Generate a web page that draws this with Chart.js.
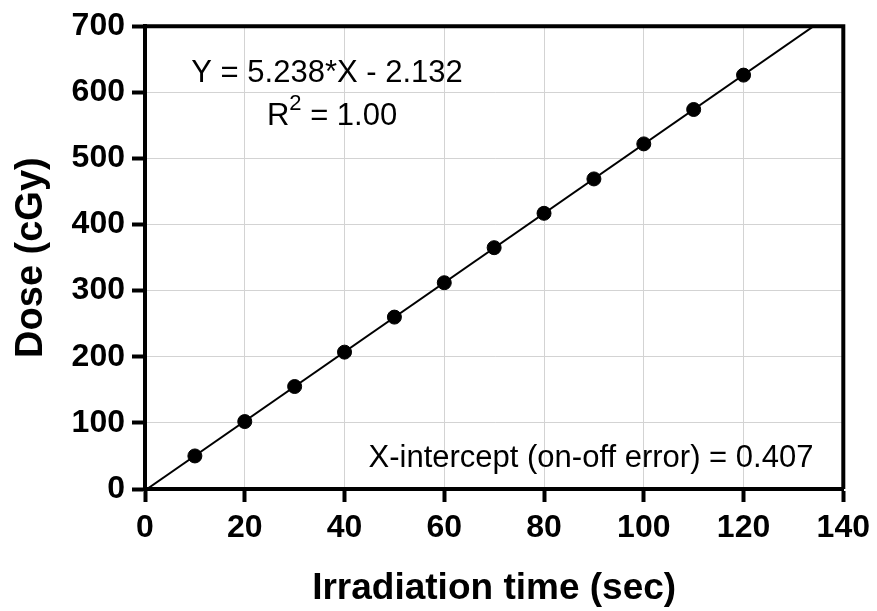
<!DOCTYPE html>
<html>
<head>
<meta charset="utf-8">
<script src="https://cdn.jsdelivr.net/npm/chart.js@4/dist/chart.umd.min.js"></script>
<style>
  html, body { margin: 0; padding: 0; background: #fff; }
  canvas { display: block; }
</style>
</head>
<body>
<canvas id="chart" width="877" height="611"></canvas>
<script>
// Irradiation time vs measured dose, with linear fit.
const times = [10, 20, 30, 40, 50, 60, 70, 80, 90, 100, 110, 120];
const doses = [50, 102, 155, 207, 260, 312, 365, 417, 469, 522, 574, 626];

// Fit reported on the figure.
const slope = 5.238;
const intercept = -2.132;
const xIntercept = 0.407;
const rSquared = '1.00';

const X_MAX = 140, Y_MAX = 700;

const FONT = '"Liberation Sans", Arial, Helvetica, sans-serif';

// Fit line from the x-intercept up to where it leaves the top of the plot.
const fitLine = [
  { x: xIntercept, y: slope * xIntercept + intercept },
  { x: (Y_MAX - intercept) / slope, y: Y_MAX },
];

const framePlugin = {
  id: 'frame',
  afterDraw(chart) {
    const { ctx, chartArea: a, scales: { x, y } } = chart;
    ctx.save();
    // top and right edges of the box
    ctx.strokeStyle = '#000';
    ctx.lineWidth = 4;
    ctx.beginPath();
    ctx.moveTo(a.left, a.top);
    ctx.lineTo(a.right, a.top);
    ctx.lineTo(a.right, a.bottom);
    ctx.stroke();

    // annotations
    ctx.fillStyle = '#000';
    ctx.textBaseline = 'middle';
    ctx.font = `31px ${FONT}`;
    ctx.textAlign = 'center';
    ctx.fillText(`Y = ${slope}*X - ${Math.abs(intercept)}`, x.getPixelForValue(36.5), y.getPixelForValue(628));

    // R² with superscript
    const ry = y.getPixelForValue(563);
    const partR = 'R', partRest = ` = ${rSquared}`;
    ctx.font = `31px ${FONT}`;
    const wR = ctx.measureText(partR).width;
    const wRest = ctx.measureText(partRest).width;
    ctx.font = `22px ${FONT}`;
    const wSup = ctx.measureText('2').width;
    const total = wR + wSup + wRest;
    let rx = x.getPixelForValue(37.5) - total / 2;
    ctx.textAlign = 'left';
    ctx.font = `31px ${FONT}`;
    ctx.fillText(partR, rx, ry);
    rx += wR;
    ctx.font = `22px ${FONT}`;
    ctx.fillText('2', rx, ry - 13);
    rx += wSup;
    ctx.font = `31px ${FONT}`;
    ctx.fillText(partRest, rx, ry);

    ctx.textAlign = 'right';
    ctx.fillText(`X-intercept (on-off error) = ${xIntercept}`, x.getPixelForValue(134), y.getPixelForValue(46));
    ctx.restore();
  },
};

new Chart(document.getElementById('chart'), {
  type: 'scatter',
  data: {
    datasets: [
      {
        type: 'line',
        data: fitLine,
        borderColor: '#000',
        borderWidth: 2,
        pointRadius: 0,
        fill: false,
        order: 2,
      },
      {
        data: times.map((t, i) => ({ x: t, y: doses[i] })),
        backgroundColor: '#000',
        borderColor: '#000',
        pointRadius: 7,
        pointHoverRadius: 7,
        order: 1,
      },
    ],
  },
  options: {
    responsive: false,
    animation: false,
    events: [],
    layout: { padding: { top: 22, right: 32, left: 0, bottom: 0 } },
    plugins: { legend: { display: false }, tooltip: { enabled: false } },
    scales: {
      x: {
        type: 'linear',
        min: 0,
        max: X_MAX,
        afterFit: s => { s.height = 122; },
        ticks: { stepSize: 20, color: '#000', padding: 7, font: { family: FONT, size: 32, weight: 'bold' } },
        grid: { color: '#d3d3d3', lineWidth: 1, tickColor: '#000', tickWidth: 4, tickLength: 13 },
        border: { color: '#000', width: 4 },
        title: {
          display: true,
          text: 'Irradiation time (sec)',
          color: '#000',
          padding: { top: 6, bottom: 0 },
          font: { family: FONT, size: 37, weight: 'bold' },
        },
      },
      y: {
        min: 0,
        max: Y_MAX,
        afterFit: s => { s.width = 145; },
        ticks: { stepSize: 100, color: '#000', padding: 7, font: { family: FONT, size: 32, weight: 'bold' } },
        grid: { color: '#d3d3d3', lineWidth: 1, tickColor: '#000', tickWidth: 4, tickLength: 13 },
        border: { color: '#000', width: 4 },
        title: {
          display: true,
          text: 'Dose (cGy)',
          color: '#000',
          padding: { top: 9, bottom: 0 },
          font: { family: FONT, size: 38, weight: 'bold' },
        },
      },
    },
  },
  plugins: [framePlugin],
});
</script>
</body>
</html>
